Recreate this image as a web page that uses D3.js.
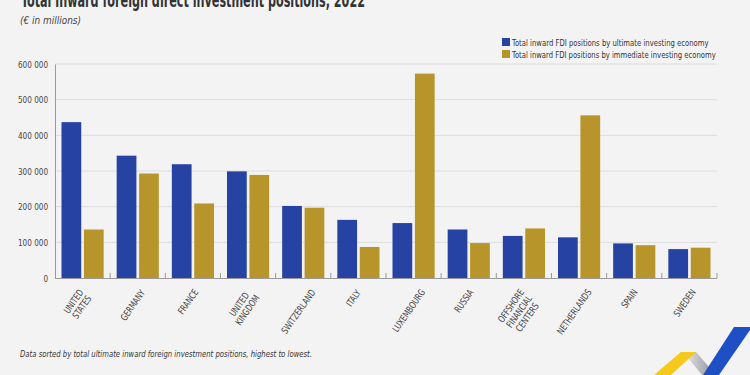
<!DOCTYPE html>
<html>
<head>
<meta charset="utf-8">
<script src="https://cdn.jsdelivr.net/npm/d3@7"></script>
<style>
  body { margin: 0; background: #f4f3f4; }
  svg { display: block; font-family: "Liberation Sans Narrow", "DejaVu Sans Condensed", sans-serif; }
</style>
</head>
<body>
<svg id="chart" width="750" height="375"></svg>
<script>
const countries = [
  ['UNITED', 'STATES'], ['GERMANY'], ['FRANCE'], ['UNITED', 'KINGDOM'], ['SWITZERLAND'], ['ITALY'],
  ['LUXEMBOURG'], ['RUSSIA'], ['OFFSHORE', 'FINANCIAL', 'CENTERS'], ['NETHERLANDS'], ['SPAIN'], ['SWEDEN']
];
const ultimate = [437000, 343000, 319000, 299000, 202000, 163000, 154000, 136000, 118000, 114000, 97000, 81000];
const immediate = [136000, 293000, 209000, 289000, 197000, 87000, 573000, 98000, 139000, 456000, 92000, 85000];
const yTicks = [0, 100000, 200000, 300000, 400000, 500000, 600000];
const seriesNames = [
  'Total inward FDI positions by ultimate investing economy',
  'Total inward FDI positions by immediate investing economy'
];
const colors = ['#2642a3', '#b8952a'];

const svg = d3.select('#chart');
const pLeft = 55, pRight = 717, pTop = 64, pBottom = 278;
const angle = -55;

// squeeze text horizontally, the font here is wider than the original condensed one
condense = (sel, f) => sel.each(function() {
  const w = this.getComputedTextLength();
  d3.select(this).attr('textLength', w * f).attr('lengthAdjust', 'spacingAndGlyphs');
});

const keys = countries.map((c, i) => i);
const x = d3.scaleBand().domain(keys).range([pLeft, pRight]).paddingInner(0).paddingOuter(0);
const xs = d3.scaleBand().domain([0, 1]).range([6.5, x.bandwidth() - 6.5]).paddingInner(0.12);
const y = d3.scaleLinear().domain([0, 600000]).range([pBottom, pTop]);

// title
svg.append('text')
  .attr('x', 21).attr('y', 7)
  .attr('textLength', 344).attr('lengthAdjust', 'spacingAndGlyphs')
  .style('font-size', '19px').style('font-weight', 'bold').style('fill', '#333')
  .text('Total inward foreign direct investment positions, 2022');
svg.append('text')
  .attr('x', 20).attr('y', 24)
  .attr('textLength', 61).attr('lengthAdjust', 'spacingAndGlyphs')
  .style('font-size', '10px').style('font-style', 'italic').style('fill', '#444')
  .text('(€ in millions)');

// gridlines
svg.append('g')
  .selectAll('line')
  .data(yTicks.slice(1))
  .enter()
  .append('line')
  .attr('x1', pLeft).attr('x2', pRight)
  .attr('y1', d => y(d)).attr('y2', d => y(d))
  .style('stroke', '#dedcde').style('stroke-width', 1);

// y axis
const yAxis = svg.append('g')
  .attr('transform', `translate(${pLeft},0)`)
  .call(d3.axisLeft(y).tickValues(yTicks).tickSize(0).tickPadding(7)
    .tickFormat(d => d3.format(',')(d).replace(/,/g, ' ')));
yAxis.attr('font-family', null);
yAxis.select('.domain').style('stroke', '#9a9a9a');
yAxis.selectAll('text').style('font-size', '9.5px').style('fill', '#444').call(condense, 0.85);

// bars
const grp = svg.append('g')
  .selectAll('g')
  .data(keys)
  .enter()
  .append('g')
  .attr('transform', d => `translate(${x(d)},0)`);

grp.selectAll('rect')
  .data(d => [ultimate[d], immediate[d]])
  .enter()
  .append('rect')
  .attr('x', (d, i) => xs(i))
  .attr('width', xs.bandwidth())
  .attr('y', d => y(d))
  .attr('height', d => y(0) - y(d))
  .style('fill', (d, i) => colors[i]);

// x axis baseline and ticks between groups
svg.append('line')
  .attr('x1', pLeft).attr('x2', pRight)
  .attr('y1', pBottom + 0.5).attr('y2', pBottom + 0.5)
  .style('stroke', '#9a9a9a');
svg.append('g')
  .selectAll('line')
  .data(keys.slice(1).concat([keys.length]))
  .enter()
  .append('line')
  .attr('x1', d => pLeft + d * x.step()).attr('x2', d => pLeft + d * x.step())
  .attr('y1', pBottom - 5).attr('y2', pBottom)
  .style('stroke', '#9a9a9a');

// x labels: rotated blocks, lines centred, block box centred under the group, top aligned
const outer = svg.append('g')
  .selectAll('g')
  .data(keys)
  .enter()
  .append('g');
const inner = outer.append('g').attr('transform', `rotate(${angle})`);
const lbl = inner.append('text')
  .style('text-anchor', 'end')
  .style('font-size', '9.5px')
  .style('fill', '#444');
lbl.selectAll('tspan')
  .data(d => countries[d].map((t, i) => ({ t, i })))
  .enter()
  .append('tspan')
  .attr('y', d => (d.i * 1.05) + 'em')
  .text(d => d.t)
  .call(condense, 0.82);
lbl.each(function() {
  const spans = d3.select(this).selectAll('tspan');
  const lens = spans.nodes().map(n => +n.getAttribute('textLength'));
  const maxL = d3.max(lens);
  spans.attr('x', (d, i) => -(maxL - lens[i]) / 2);
});
outer.each(function(d) {
  const b = d3.select(this).select('text').node().getBBox();
  const a = angle * Math.PI / 180;
  const pts = [[b.x, b.y], [b.x + b.width, b.y], [b.x, b.y + b.height], [b.x + b.width, b.y + b.height]]
    .map(p => [p[0] * Math.cos(a) - p[1] * Math.sin(a), p[0] * Math.sin(a) + p[1] * Math.cos(a)]);
  const minX = d3.min(pts, p => p[0]), maxX = d3.max(pts, p => p[0]), minY = d3.min(pts, p => p[1]);
  const cx = x(d) + x.bandwidth() / 2 - 5;
  d3.select(this).attr('transform', `translate(${cx - (minX + maxX) / 2},${287 - minY})`);
});

// legend
const leg = svg.append('g')
  .selectAll('g')
  .data(seriesNames)
  .enter()
  .append('g')
  .attr('transform', (d, i) => `translate(502,${38 + i * 12})`);
leg.append('rect')
  .attr('width', 8).attr('height', 8)
  .style('fill', (d, i) => colors[i]);
leg.append('text')
  .attr('y', 7.5)
  .style('font-size', '9.5px').style('fill', '#333')
  .text(d => d)
  .each(function(d, i) {
    const w = this.getComputedTextLength();
    d3.select(this).attr('transform', `translate(10,0) scale(${[197, 204][i] / w},1)`);
  });

// footnote
svg.append('text')
  .attr('x', 20).attr('y', 357)
  .attr('textLength', 292).attr('lengthAdjust', 'spacingAndGlyphs')
  .style('font-size', '9.5px').style('font-style', 'italic').style('fill', '#333')
  .text('Data sorted by total ultimate inward foreign investment positions, highest to lowest.');

// logo
const grad = svg.append('defs').append('linearGradient').attr('id', 'gr')
  .attr('x1', '0').attr('x2', '1').attr('y1', '0').attr('y2', '0');
grad.append('stop').attr('offset', '0').attr('stop-color', '#e8e8e8');
grad.append('stop').attr('offset', '1').attr('stop-color', '#8a8f98');
svg.append('path').attr('d', 'M683,352 L696,352 L716,375 L702,375 Z').style('fill', 'url(#gr)');
svg.append('path').attr('d', 'M654,375 L671,375 L696,352 L681,352 Z').style('fill', '#f7c91c');
svg.append('path').attr('d', 'M703,375 L719,375 L752,327 L734,327 Z').style('fill', '#1f4fc4');
</script>
</body>
</html>
